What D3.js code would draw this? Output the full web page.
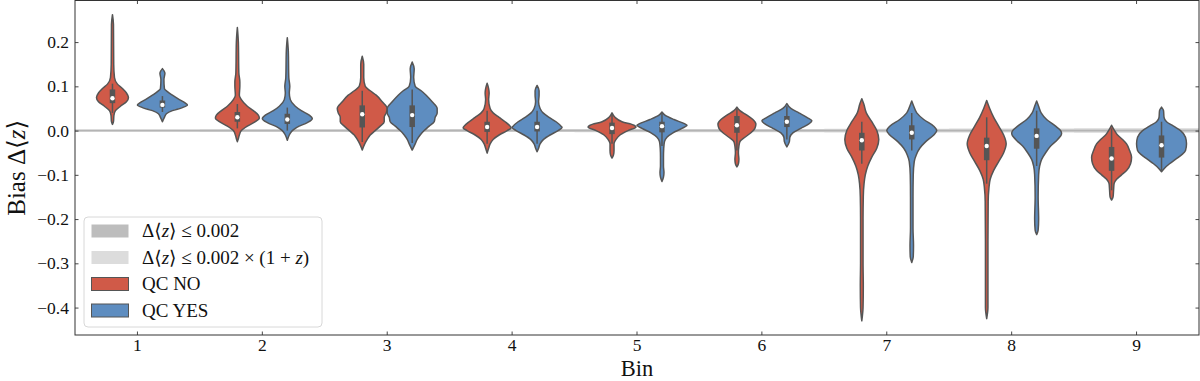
<!DOCTYPE html>
<html>
<head>
<meta charset="utf-8">
<script src="https://d3js.org/d3.v7.min.js"></script>
<style>
body { margin: 0; background: #fff; }
text { font-family: "Liberation Serif", "DejaVu Serif", serif; fill: #111; }
</style>
</head>
<body>
<script>
/*
Data
*/
var bins = ["1", "2", "3", "4", "5", "6", "7", "8", "9"];
var groups = ["QC NO", "QC YES"];
var yTicks = [-0.4, -0.3, -0.2, -0.1, 0.0, 0.1, 0.2];

// rough mean redshift of each bin, for the 0.002*(1+z) band
var zMid = [0.35, 0.5, 0.6, 0.7, 0.8, 0.9, 1.1, 1.3, 1.55];

// violin outlines: [bias, relative density]
var profileNo = [
  [[0.262,0],[0.24,0.04],[0.15,0.05],[0.12,0.08],[0.105,0.2],[0.095,0.4],[0.085,0.56],[0.075,0.64],[0.065,0.56],[0.055,0.32],[0.045,0.12],[0.035,0.06],[0.02,0.04],[0.014,0]],
  [[0.233,0],[0.2,0.04],[0.13,0.06],[0.11,0.1],[0.1,0.1],[0.08,0.08],[0.07,0.16],[0.055,0.4],[0.045,0.64],[0.035,0.84],[0.028,0.88],[0.02,0.72],[0.01,0.4],[0,0.16],[-0.01,0.08],[-0.02,0.03],[-0.025,0]],
  [[0.168,0],[0.15,0.06],[0.12,0.06],[0.1,0.12],[0.09,0.32],[0.08,0.56],[0.065,0.8],[0.05,1],[0.04,0.96],[0.03,0.88],[0.02,0.88],[0.01,0.72],[0,0.52],[-0.01,0.32],[-0.02,0.2],[-0.03,0.1],[-0.044,0]],
  [[0.107,0],[0.095,0.06],[0.085,0.08],[0.07,0.06],[0.05,0.12],[0.04,0.24],[0.03,0.48],[0.02,0.72],[0.01,0.92],[0.006,0.96],[0,0.8],[-0.01,0.48],[-0.02,0.24],[-0.03,0.12],[-0.04,0.06],[-0.051,0]],
  [[0.04,0],[0.03,0.12],[0.02,0.4],[0.012,0.88],[0.008,0.96],[0,0.64],[-0.01,0.32],[-0.02,0.16],[-0.03,0.08],[-0.045,0.08],[-0.055,0.06],[-0.062,0]],
  [[0.053,0],[0.045,0.12],[0.035,0.4],[0.025,0.64],[0.015,0.76],[0.005,0.72],[-0.005,0.56],[-0.015,0.32],[-0.025,0.12],[-0.035,0.08],[-0.05,0.06],[-0.065,0.08],[-0.075,0.06],[-0.082,0]],
  [[0.072,0],[0.06,0.08],[0.04,0.18],[0.02,0.4],[0,0.6],[-0.02,0.68],[-0.04,0.6],[-0.06,0.4],[-0.08,0.24],[-0.1,0.14],[-0.12,0.09],[-0.15,0.06],[-0.2,0.05],[-0.3,0.05],[-0.35,0.06],[-0.4,0.05],[-0.43,0]],
  [[0.068,0],[0.05,0.12],[0.03,0.28],[0.01,0.48],[-0.01,0.68],[-0.03,0.78],[-0.05,0.68],[-0.07,0.48],[-0.09,0.28],[-0.11,0.14],[-0.13,0.09],[-0.16,0.06],[-0.25,0.05],[-0.35,0.05],[-0.4,0.05],[-0.425,0]],
  [[0.012,0],[0,0.12],[-0.01,0.24],[-0.02,0.44],[-0.03,0.6],[-0.045,0.72],[-0.06,0.8],[-0.075,0.76],[-0.09,0.6],[-0.1,0.4],[-0.11,0.2],[-0.12,0.1],[-0.135,0.08],[-0.15,0.06],[-0.157,0]]
];
var profileYes = [
  [[0.14,0],[0.13,0.1],[0.115,0.06],[0.095,0.08],[0.088,0.2],[0.08,0.4],[0.07,0.68],[0.062,0.92],[0.058,1],[0.052,0.8],[0.045,0.4],[0.038,0.16],[0.03,0.08],[0.02,0]],
  [[0.21,0],[0.18,0.04],[0.12,0.06],[0.1,0.1],[0.085,0.08],[0.07,0.12],[0.055,0.32],[0.045,0.56],[0.035,0.88],[0.027,1],[0.018,0.8],[0.008,0.4],[0,0.2],[-0.01,0.08],[-0.022,0]],
  [[0.155,0],[0.14,0.08],[0.12,0.06],[0.1,0.12],[0.09,0.36],[0.08,0.56],[0.065,0.8],[0.05,1],[0.04,1],[0.03,0.92],[0.02,0.88],[0.01,0.68],[0,0.48],[-0.01,0.32],[-0.02,0.2],[-0.03,0.12],[-0.044,0]],
  [[0.102,0],[0.09,0.08],[0.08,0.08],[0.065,0.06],[0.05,0.12],[0.04,0.24],[0.03,0.48],[0.02,0.76],[0.01,0.96],[0.007,1],[0,0.84],[-0.01,0.52],[-0.02,0.26],[-0.03,0.12],[-0.04,0.06],[-0.048,0]],
  [[0.042,0],[0.035,0.12],[0.025,0.48],[0.015,0.92],[0.012,1],[0.005,0.8],[-0.005,0.44],[-0.015,0.2],[-0.025,0.1],[-0.04,0.07],[-0.06,0.06],[-0.08,0.06],[-0.095,0.08],[-0.105,0.06],[-0.115,0]],
  [[0.061,0],[0.05,0.16],[0.04,0.48],[0.03,0.8],[0.022,1],[0.015,0.88],[0.005,0.56],[-0.005,0.24],[-0.015,0.12],[-0.025,0.1],[-0.037,0]],
  [[0.067,0],[0.055,0.08],[0.04,0.2],[0.025,0.48],[0.01,0.88],[0,1],[-0.01,0.88],[-0.025,0.56],[-0.04,0.32],[-0.055,0.18],[-0.07,0.1],[-0.1,0.06],[-0.15,0.05],[-0.22,0.05],[-0.26,0.07],[-0.285,0.06],[-0.298,0]],
  [[0.067,0],[0.055,0.08],[0.04,0.18],[0.025,0.4],[0.01,0.76],[0,0.96],[-0.007,1],[-0.02,0.84],[-0.035,0.56],[-0.05,0.36],[-0.065,0.2],[-0.08,0.12],[-0.1,0.08],[-0.15,0.06],[-0.2,0.08],[-0.225,0.06],[-0.235,0]],
  [[0.053,0],[0.045,0.08],[0.03,0.1],[0.02,0.2],[0.01,0.48],[0,0.76],[-0.015,0.96],[-0.03,1],[-0.045,0.96],[-0.055,0.8],[-0.065,0.56],[-0.075,0.32],[-0.085,0.12],[-0.093,0]]
];

// inner box: median, quartiles, whiskers
var medianNo  = [0.073, 0.03, 0.037, 0.008, 0.006, 0.012, -0.022, -0.035, -0.063];
var medianYes = [0.058, 0.025, 0.035, 0.008, 0.01, 0.02, -0.005, -0.012, -0.033];
var q1No  = [0.062, 0.02, 0.007, -0.003, -0.008, -0.005, -0.045, -0.067, -0.091];
var q3No  = [0.093, 0.042, 0.057, 0.02, 0.018, 0.033, -0.005, -0.016, -0.037];
var q1Yes = [0.052, 0.015, 0.008, -0.002, -0.004, 0.008, -0.02, -0.041, -0.061];
var q3Yes = [0.068, 0.038, 0.057, 0.02, 0.02, 0.033, 0.012, 0.005, -0.011];
var loNo  = [0.04, 0.005, -0.026, -0.03, -0.03, -0.045, -0.075, -0.12, -0.135];
var hiNo  = [0.106, 0.06, 0.09, 0.045, 0.035, 0.05, 0.02, 0.03, 0.005];
var loYes = [0.042, 0.0, -0.028, -0.03, -0.035, -0.02, -0.045, -0.08, -0.09];
var hiYes = [0.078, 0.052, 0.093, 0.045, 0.04, 0.055, 0.04, 0.045, 0.02];

/*
Svg and scales
*/
var width = 1200,
    height = 381;
var plotLeft = 75, plotRight = 1199, plotTop = 0.5, plotBottom = 335;

var svg = d3.select("body").append("svg")
    .attr("width", width)
    .attr("height", height)
    .style("display", "block");

var x = d3.scaleBand()
    .domain(bins)
    .range([plotLeft, plotRight])
    .padding(0);

var dodge = d3.scaleBand()
    .domain(groups)
    .range([0.1, 0.9].map(function(f) { return f * x.bandwidth(); }))
    .padding(0);

var y = d3.scaleLinear()
    .domain([-0.462, 0.294])
    .range([plotBottom, plotTop]);

var halfWidth = d3.scaleLinear()
    .domain([0, 1])
    .range([0, dodge.bandwidth() / 2]);

var color = d3.scaleOrdinal()
    .domain(groups)
    .range(["#d05a48", "#5e8dc0"]);

var edge = "#555";

/*
Tolerance bands round zero
*/
var bandData = bins.map(function(b, i) { return { z: zMid[i] }; });
// extra step point so the last bin reaches the right edge
bandData.push({ z: zMid[zMid.length - 1] });
function bandX(d, i) { return i < bins.length ? x(bins[i]) : plotRight; }

svg.append("path")
    .datum(bandData)
    .attr("fill", "#d9d9d9")
    .attr("d", d3.area()
        .curve(d3.curveStepAfter)
        .x(bandX)
        .y0(function(d) { return y(-0.002 * (1 + d.z)); })
        .y1(function(d) { return y(0.002 * (1 + d.z)); }));

svg.append("rect")
    .attr("x", plotLeft)
    .attr("width", plotRight - plotLeft)
    .attr("y", y(0.002))
    .attr("height", y(-0.002) - y(0.002))
    .attr("fill", "#b4b4b4");

/*
Violins
*/
var violin = d3.area()
    .curve(d3.curveMonotoneY)
    .y(function(d) { return y(d[0]); });

var sets = [
  { g: groups[0], prof: profileNo, med: medianNo, q1: q1No, q3: q3No, lo: loNo, hi: hiNo },
  { g: groups[1], prof: profileYes, med: medianYes, q1: q1Yes, q3: q3Yes, lo: loYes, hi: hiYes }
];

var violins = [];
sets.forEach(function(s) {
  bins.forEach(function(b, i) {
    violins.push({
      g: s.g,
      cx: x(b) + dodge(s.g) + dodge.bandwidth() / 2,
      prof: s.prof[i], med: s.med[i], q1: s.q1[i], q3: s.q3[i], lo: s.lo[i], hi: s.hi[i]
    });
  });
});

var vg = svg.append("g")
    .selectAll("g")
    .data(violins)
    .enter().append("g");

vg.append("path")
    .attr("fill", function(d) { return color(d.g); })
    .attr("stroke", edge)
    .attr("stroke-width", 1.5)
    .attr("stroke-linejoin", "round")
    .attr("d", function(d) {
      return violin
        .x0(function(p) { return d.cx - halfWidth(p[1]); })
        .x1(function(p) { return d.cx + halfWidth(p[1]); })(d.prof);
    });

vg.append("line")
    .attr("x1", function(d) { return d.cx; })
    .attr("x2", function(d) { return d.cx; })
    .attr("y1", function(d) { return y(d.lo); })
    .attr("y2", function(d) { return y(d.hi); })
    .attr("stroke", edge)
    .attr("stroke-width", 1.5);

vg.append("line")
    .attr("x1", function(d) { return d.cx; })
    .attr("x2", function(d) { return d.cx; })
    .attr("y1", function(d) { return y(d.q1); })
    .attr("y2", function(d) { return y(d.q3); })
    .attr("stroke", edge)
    .attr("stroke-width", 5.5);

vg.append("circle")
    .attr("cx", function(d) { return d.cx; })
    .attr("cy", function(d) { return y(d.med); })
    .attr("r", 2.2)
    .attr("fill", "#fff");

/*
Axes, ticks pointing in
*/
function fmt(v) { return d3.format(".1f")(v).replace("-", "\u2212"); }

function styleAxis(g) {
  g.select(".domain").remove();
  g.selectAll(".tick line").attr("stroke", "#333").attr("stroke-width", 0.9);
  g.selectAll(".tick text")
    .attr("font-size", 17.5)
    .attr("font-family", "Liberation Serif, DejaVu Serif, serif")
    .attr("fill", "#111");
}

svg.append("g")
    .attr("transform", "translate(" + plotLeft + ",0)")
    .call(d3.axisLeft(y).tickValues(yTicks).tickSize(-3.5).tickPadding(6).tickFormat(fmt))
    .call(styleAxis);

svg.append("g")
    .attr("transform", "translate(" + plotRight + ",0)")
    .call(d3.axisRight(y).tickValues(yTicks).tickSize(-3.5).tickFormat(""))
    .call(styleAxis);

svg.append("g")
    .attr("transform", "translate(0," + plotBottom + ")")
    .call(d3.axisBottom(x).tickSize(-3.5).tickPadding(4))
    .call(styleAxis);

svg.append("g")
    .attr("transform", "translate(0," + plotTop + ")")
    .call(d3.axisTop(x).tickSize(-3.5).tickFormat(""))
    .call(styleAxis);

svg.append("rect")
    .attr("x", plotLeft)
    .attr("y", plotTop)
    .attr("width", plotRight - plotLeft)
    .attr("height", plotBottom - plotTop)
    .attr("fill", "none")
    .attr("stroke", "#333")
    .attr("stroke-width", 1);

// axis titles
svg.append("text")
    .attr("x", (plotLeft + plotRight) / 2)
    .attr("y", 375.5)
    .attr("text-anchor", "middle")
    .attr("font-size", 22.5)
    .text("Bin");

var yl = svg.append("text")
    .attr("transform", "translate(25," + ((plotTop + plotBottom) / 2) + ") rotate(-90)")
    .attr("text-anchor", "middle")
    .attr("font-size", 25);
yl.append("tspan").text("Bias \u0394\u27e8");
yl.append("tspan").attr("font-style", "italic").text("z");
yl.append("tspan").text("\u27e9");

/*
Legend
*/
var legendItems = [
  { fill: "#bdbdbd", parts: [["\u0394\u27e8", 0], ["z", 1], ["\u27e9 \u2264 0.002", 0]] },
  { fill: "#dcdcdc", parts: [["\u0394\u27e8", 0], ["z", 1], ["\u27e9 \u2264 0.002 \u00d7 (1 + ", 0], ["z", 1], [")", 0]] },
  { fill: color(groups[0]), stroke: edge, parts: [[groups[0], 0]] },
  { fill: color(groups[1]), stroke: edge, parts: [[groups[1], 0]] }
];

var legend = svg.append("g").attr("transform", "translate(84,217)");

legend.append("rect")
    .attr("width", 238)
    .attr("height", 110)
    .attr("rx", 4)
    .attr("fill", "#fff")
    .attr("fill-opacity", 0.85)
    .attr("stroke", "#d8d8d8");

var li = legend.selectAll("g.item")
    .data(legendItems)
    .enter().append("g")
    .attr("class", "item")
    .attr("transform", function(d, i) { return "translate(0," + (14 + i * 26.5) + ")"; });

li.append("rect")
    .attr("x", 7.5)
    .attr("y", -6.5)
    .attr("width", 37)
    .attr("height", 13)
    .attr("fill", function(d) { return d.fill; })
    .attr("stroke", function(d) { return d.stroke || "none"; })
    .attr("stroke-width", 1);

li.append("text")
    .attr("x", 58)
    .attr("y", 6)
    .attr("font-size", 19)
    .each(function(d) {
      var t = d3.select(this);
      d.parts.forEach(function(p) {
        t.append("tspan").attr("font-style", p[1] ? "italic" : null).text(p[0]);
      });
    });
</script>
</body>
</html>
